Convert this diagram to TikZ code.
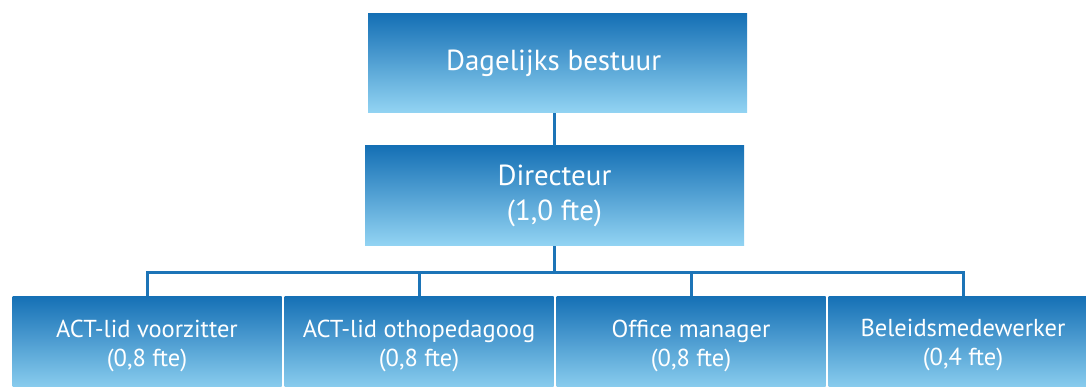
\documentclass[tikz,border=0pt]{standalone}
\usepackage{fontspec}
\setmainfont{PT Sans}
\usepackage{tikz}
\usepackage{xcolor}
\definecolor{boxtop}{HTML}{1570B5}
\definecolor{boxbottom}{HTML}{93D4F3}
\definecolor{linkblue}{HTML}{1C74B7}
\begin{document}
\begin{tikzpicture}[x=1pt,y=-1pt,
    base/.style={rectangle,top color=boxtop,bottom color=boxbottom,draw=none,
      text=white,align=center,inner sep=0pt,minimum width=379pt,minimum height=99pt,
      font=\fontsize{29}{35}\selectfont},
    small/.style={base,minimum width=269pt,font=\fontsize{24.5}{29}\selectfont},
    link/.style={draw=linkblue,line width=3pt}]
    \useasboundingbox (0,0) rectangle (1086,387);
    \clip (0,0) rectangle (1086,387);

    \node[base] (DB) at (557.5,63.5)
    { Dagelijks bestuur };

    \node[base, minimum height=100pt] (DIR) at (554.5,196)
    { Directeur\\(1,0 fte) };

    \node[small] (B1) at (147,345.5)
    { ACT-lid voorzitter\\(0,8 fte) };
    \node[small] (B2) at (419,345.5)
    { ACT-lid othopedagoog\\(0,8 fte) };
    \node[small] (B3) at (691,345.5)
    { Office manager\\(0,8 fte) };
    \node[small] (B4) at (963,345.5)
    { Beleidsmedewerker\\(0,4 fte) };

    \coordinate (BUS) at (554.5,272);

    \path[link]
    {
        (DIR.north |- DB.south) -- (DIR.north)
        (DIR.south) -- (BUS)
        (B1.north) |- (BUS) -| (B4.north)
        (B2.north) -- (B2.north |- BUS)
        (B3.north) -- (B3.north |- BUS)
    };
\end{tikzpicture}
\end{document}
